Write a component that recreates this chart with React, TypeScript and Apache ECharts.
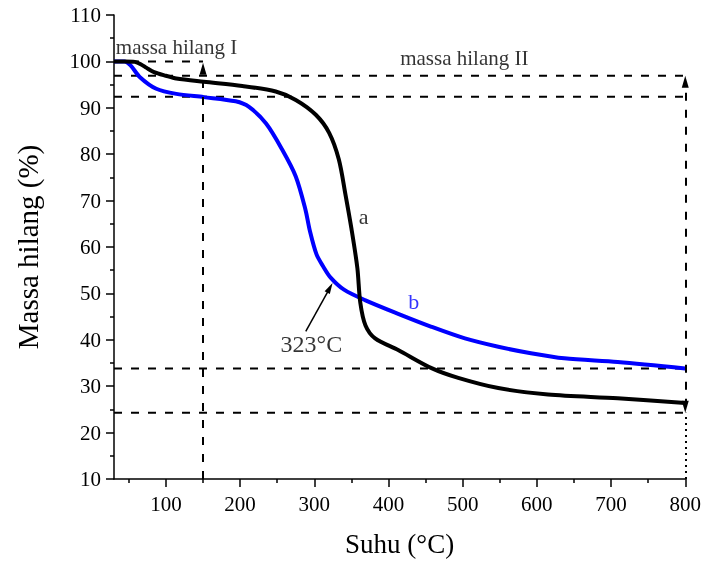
import React, { useEffect, useRef } from 'react';
import * as echarts from 'echarts';

// Curve a (black)
const tempA = [30, 45, 58, 66, 74, 84, 100, 114, 151, 203, 248, 275, 302, 320, 333, 342, 350, 358, 362, 369, 382, 413, 458, 494, 548, 615, 709, 800];
const massA = [100, 100, 99.9, 99.4, 98.6, 97.7, 96.9, 96.3, 95.6, 94.7, 93.5, 91.7, 88.5, 84.6, 78.9, 71.3, 64, 55.5, 48, 43.1, 40.3, 37.8, 33.9, 31.8, 29.6, 28.2, 27.4, 26.4];

// Curve b (blue)
const tempB = [30, 44, 52, 65, 87, 114, 151, 194, 212, 235, 257, 275, 288, 294, 303, 312, 322, 340, 369, 413, 458, 503, 548, 592, 637, 709, 800];
const massB = [100, 100, 99.2, 96.6, 94.1, 93.0, 92.3, 91.4, 90.2, 86.6, 80.9, 75.2, 68.1, 63.5, 58.4, 55.8, 53.4, 50.8, 48.5, 45.6, 42.8, 40.3, 38.5, 37.1, 36.0, 35.2, 33.8];

// Axis ticks
const xTicks = [100, 200, 300, 400, 500, 600, 700, 800];
const xMinorTicks = [50, 150, 250, 350, 450, 550, 650, 750];
const xMin = 30;
const xMax = 800;
const yMin = 10;
const yMax = 110;
const yStep = 10;

// Reference levels (dashed lines)
const refLevels = [96.9, 92.4, 33.8, 24.3];
const stageOneTop = 100;
const stageOneTemp = 150;
const stageOneArrowTip = 99.7;
const endTemp = 800;
const endTopLevel = 96.9;
const endBottomLevel = 24.3;
const peakArrowFrom = [288.5, 41.8];
const peakArrowTo = [324, 52.1];

// Text annotations
const annotations = [
  { text: 'massa hilang I', x: 32.5, y: 103.2, align: 'left', color: '#000000', size: 21 },
  { text: 'massa hilang II', x: 415.8, y: 100.8, align: 'left', color: '#000000', size: 21 },
  { text: 'a', x: 366.6, y: 66.6, align: 'center', color: '#000000', size: 22 },
  { text: 'b', x: 434, y: 48.2, align: 'center', color: '#0000ff', size: 22 },
  { text: '323°C', x: 296, y: 39.2, align: 'center', color: '#000000', size: 24 },
];

const FONT = '"Times New Roman", "Liberation Serif", serif';

export default function App() {
  const ref = useRef<HTMLDivElement>(null);
  useEffect(() => {
    const chart = echarts.init(ref.current!, null, { renderer: 'svg' });
    const black = '#000000';
    const blue = '#0000ff';
    const dash = [8, 9];
    const pair = (xs: number[], ys: number[]) => xs.map((x, i) => [x, ys[i]]);
    const unitsPerPx = (yMax - yMin) / (562 - 78 - 15);
    const half = 6 * unitsPerPx;

    const arrowLine = (from: number[], to: number[], symbols: string[], size: number[], style: any) => ({
      type: 'line',
      data: [],
      silent: true,
      markLine: {
        silent: true,
        symbol: symbols,
        symbolSize: size,
        label: { show: false },
        emphasis: { disabled: true },
        lineStyle: style,
        data: [[{ coord: from }, { coord: to }]],
      },
    });

    const refSeries = refLevels.map((lvl) => ({
      type: 'line',
      data: [[xMin, lvl], [xMax, lvl]],
      showSymbol: false,
      silent: true,
      lineStyle: { color: black, width: 2, type: dash },
      z: 1,
    }));

    const option: any = {
      animation: false,
      grid: { left: 114, right: 16, top: 15, bottom: 78 },
      xAxis: [
        {
          type: 'value',
          min: xMin,
          max: xMax,
          position: 'bottom',
          name: 'Suhu (°C)',
          nameLocation: 'middle',
          nameGap: 51,
          nameTextStyle: { color: black, fontSize: 27, fontFamily: FONT },
          axisLine: { show: true, lineStyle: { color: black, width: 1.5 } },
          axisTick: { show: true, length: 8, inside: false, customValues: xTicks, lineStyle: { color: black, width: 1.5 } },
          axisLabel: { show: true, customValues: xTicks, color: black, fontSize: 21, fontFamily: FONT, margin: 14 },
          splitLine: { show: false },
        },
        {
          type: 'value',
          min: xMin,
          max: xMax,
          position: 'bottom',
          axisLine: { show: false },
          axisTick: { show: true, length: 4, inside: false, customValues: xMinorTicks, lineStyle: { color: black, width: 1.5 } },
          axisLabel: { show: false },
          splitLine: { show: false },
        },
      ],
      yAxis: {
        type: 'value',
        min: yMin,
        max: yMax,
        interval: yStep,
        name: 'Massa hilang (%)',
        nameLocation: 'middle',
        nameGap: 72,
        nameTextStyle: { color: black, fontSize: 29, fontFamily: FONT },
        axisLine: { show: true, lineStyle: { color: black, width: 1.5 } },
        axisTick: { show: true, length: 8, inside: false, lineStyle: { color: black, width: 1.5 } },
        minorTick: { show: true, splitNumber: 2, length: 4, lineStyle: { color: black, width: 1.5 } },
        axisLabel: { color: black, fontSize: 21, fontFamily: FONT, margin: 13 },
        splitLine: { show: false },
      },
      series: [
        ...refSeries,
        {
          type: 'line',
          data: [[xMin, stageOneTop], [stageOneTemp, stageOneTop]],
          showSymbol: false,
          silent: true,
          lineStyle: { color: black, width: 2, type: dash },
          z: 1,
        },
        arrowLine([stageOneTemp, yMin], [stageOneTemp, stageOneArrowTip - half], ['none', 'triangle'], [7, 12],
          { color: black, width: 2, type: dash }),
        arrowLine([endTemp, endBottomLevel + half], [endTemp, endTopLevel - half], ['triangle', 'triangle'], [7, 12],
          { color: black, width: 2, type: dash }),
        arrowLine([endTemp, yMin], [endTemp, endBottomLevel], ['none', 'none'], [7, 12],
          { color: black, width: 2, type: [2, 4] }),
        arrowLine(peakArrowFrom, [peakArrowTo[0] - 3, peakArrowTo[1] - 0.9], ['none', 'triangle'], [6, 11],
          { color: black, width: 1.5, type: 'solid' }),
        {
          name: 'a',
          type: 'line',
          data: pair(tempA, massA),
          showSymbol: false,
          smooth: 0.3,
          lineStyle: { color: black, width: 4 },
          itemStyle: { color: black },
          z: 5,
        },
        {
          name: 'b',
          type: 'line',
          data: pair(tempB, massB),
          showSymbol: false,
          smooth: 0.3,
          lineStyle: { color: blue, width: 4 },
          itemStyle: { color: blue },
          z: 4,
        },
        {
          type: 'scatter',
          symbolSize: 0,
          silent: true,
          z: 6,
          data: annotations.map((a) => ({
            value: [a.x, a.y],
            label: {
              show: true,
              position: 'inside',
              formatter: a.text,
              align: a.align,
              verticalAlign: 'middle',
              color: a.color,
              fontSize: a.size,
              fontFamily: FONT,
            },
          })),
        },
      ],
    };
    chart.setOption(option);
    return () => chart.dispose();
  }, []);
  return <div ref={ref} style={{ position: 'fixed', left: 0, top: 0, width: 704, height: 562 }} />;
}
